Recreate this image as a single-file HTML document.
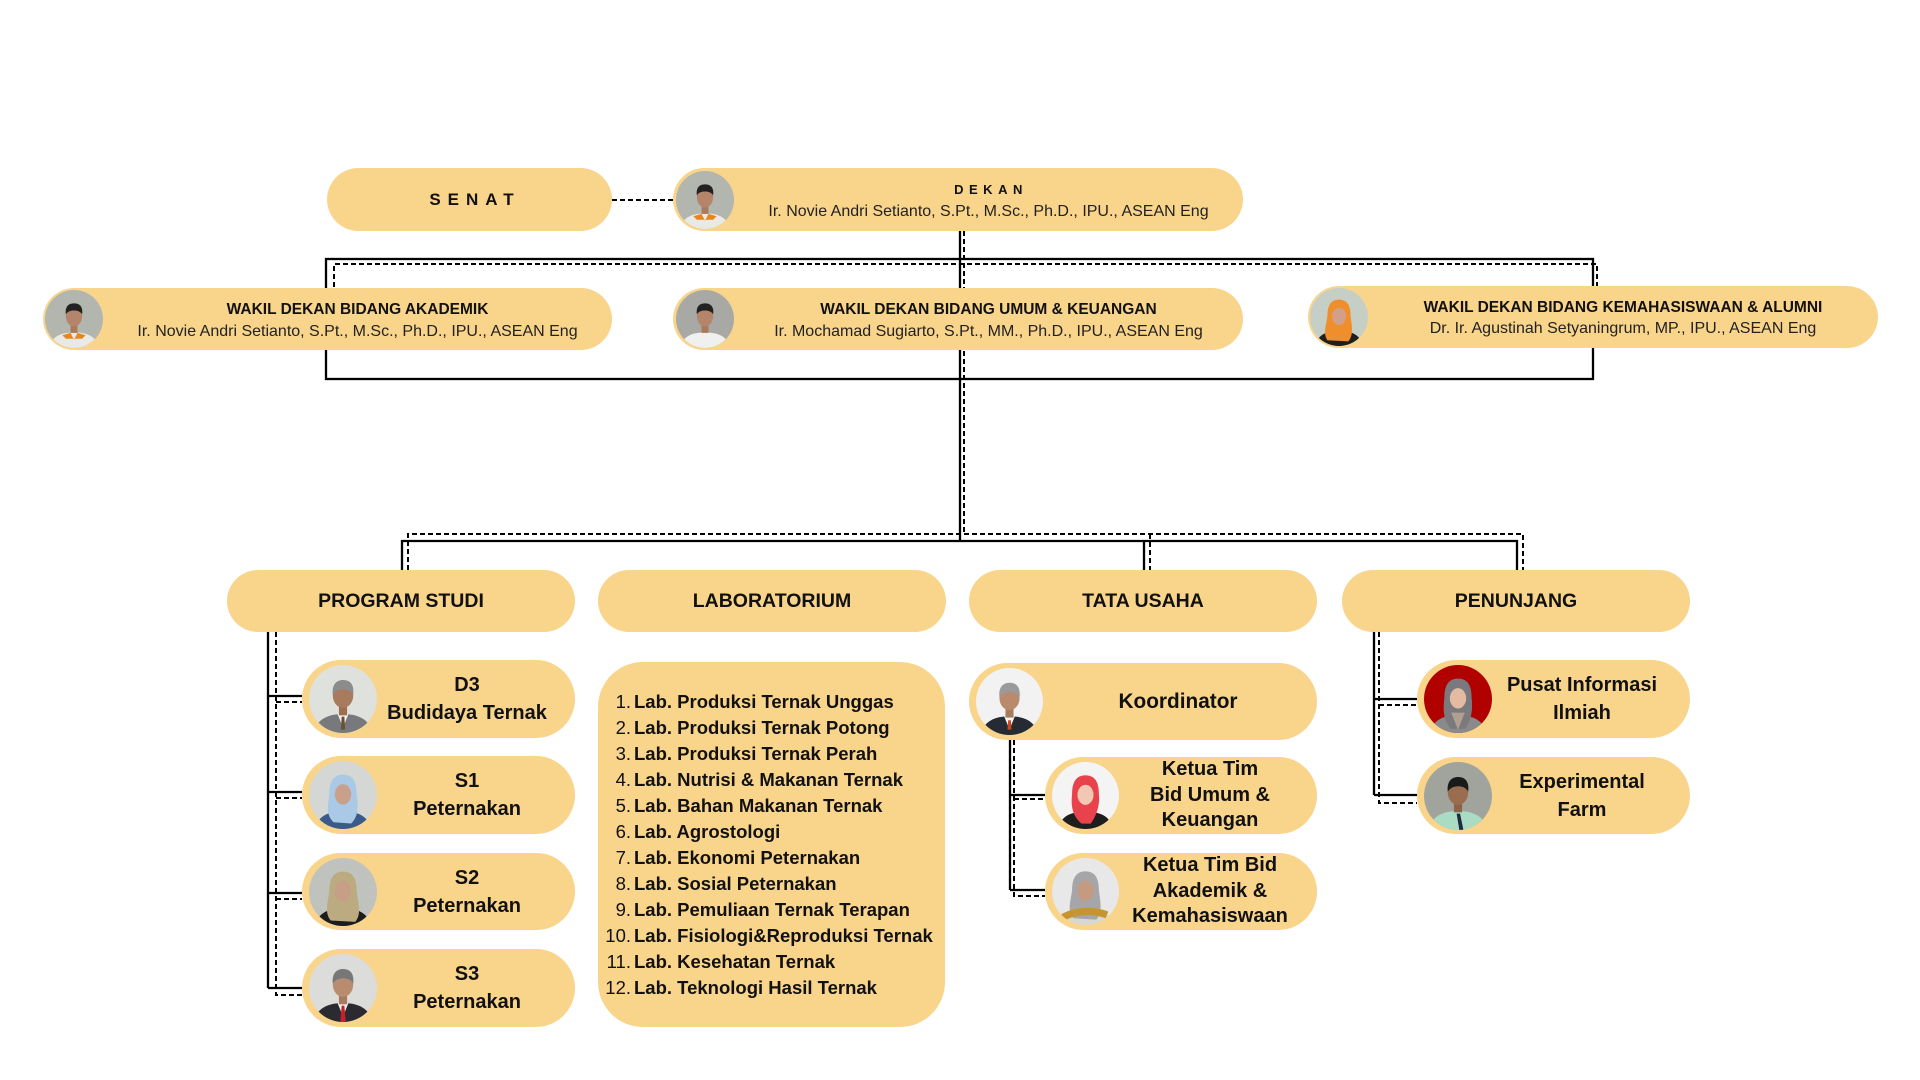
<!DOCTYPE html>
<html><head><meta charset="utf-8">
<style>
html,body{margin:0;padding:0}
body{width:1920px;height:1080px;position:relative;background:#fff;overflow:hidden;font-family:"Liberation Sans",sans-serif;color:#111}
svg.lines{position:absolute;left:0;top:0}
.b{position:absolute;background:#F9D48B}
.ph{position:absolute;border-radius:50%;overflow:hidden}
.ph svg{display:block;width:100%;height:100%}
.tt{position:absolute;text-align:center;font-weight:bold;font-size:15.5px;line-height:18px;white-space:nowrap}
.nm{position:absolute;text-align:center;font-size:16px;line-height:20px;color:#222;white-space:nowrap}
.hd{position:absolute;left:0;right:0;top:0;bottom:0;display:flex;align-items:center;justify-content:center;font-weight:bold;font-size:19.5px;white-space:nowrap}
.ct{position:absolute;top:0;bottom:0;display:flex;align-items:center;justify-content:center;text-align:center;font-weight:bold;font-size:20px;line-height:28px;white-space:nowrap}
.ct3{line-height:25.5px}
.row{position:absolute;left:600px;font-size:18.5px;line-height:26px;white-space:nowrap}
.row .n{display:inline-block;width:31px;text-align:right;font-weight:normal}
.row .t{font-weight:bold;margin-left:3px}
</style></head><body>

<svg class="lines" width="1920" height="1080" viewBox="0 0 1920 1080">
 <g fill="none" stroke="#000" stroke-width="2.3">
  <rect x="326" y="259" width="1267" height="120"/>
  <path d="M960,231 V541"/>
  <path d="M402,570 V541 H1517 V570 M1144,541 V570"/>
  <path d="M268,632 V988 M268,696 H302 M268,792 H302 M268,893 H302 M268,988 H302"/>
  <path d="M1010,740 V890 M1010,795 H1045 M1010,890 H1045"/>
  <path d="M1374,632 V795 M1374,699 H1417 M1374,795 H1417"/>
 </g>
 <g fill="none" stroke="#000" stroke-width="2" stroke-dasharray="5,3">
  <path d="M612,200 H676"/>
  <path d="M334,287 V264 H1597 V287"/>
  <path d="M964,231 V534"/>
  <path d="M408,570 V534 H1523 V570 M1150,534 V570"/>
  <path d="M276,632 V995 H302 M276,702 H302 M276,798 H302 M276,899 H302"/>
  <path d="M1014,740 V896 H1045 M1014,799 H1045"/>
  <path d="M1379,632 V803 H1417 M1379,705 H1417"/>
 </g>
</svg>

<!-- SENAT -->
<div class="b" style="left:327px;top:168px;width:285px;height:63px;border-radius:32px">
 <div class="hd" style="font-size:17px;letter-spacing:7px;padding-left:11px">SENAT</div>
</div>

<!-- DEKAN -->
<div class="b" style="left:673px;top:168px;width:570px;height:63px;border-radius:32px">
 <div class="ph" style="left:3px;top:2.5px;width:58px;height:58px"><svg viewBox="0 0 100 100"><rect width="100" height="100" fill="#b3b6ae"/><path d="M8,100 C10,80 28,73 50,73 C72,73 90,80 92,100Z" fill="#e9e9e6"/><path d="M30,78 L44,74 L50,86 L56,74 L70,78 L64,84 L36,84Z" fill="#e8861e"/><rect x="44" y="58" width="12" height="16" fill="#a97a5c"/><ellipse cx="50" cy="45" rx="14" ry="18" fill="#b4856a"/><path d="M36,42 C34,26 43,23 50,23 C60,23 66,29 64,42 C60,33 40,33 36,42Z" fill="#222"/></svg></div>
 <div class="tt" style="left:61px;right:0;top:13px;font-size:13px;letter-spacing:5.5px;padding-left:5px">DEKAN</div>
 <div class="nm" style="left:61px;right:0;top:34px">Ir. Novie Andri Setianto, S.Pt., M.Sc., Ph.D., IPU., ASEAN Eng</div>
</div>

<!-- WAKIL AKADEMIK -->
<div class="b" style="left:43px;top:288px;width:569px;height:62px;border-radius:31px">
 <div class="ph" style="left:2px;top:2px;width:58px;height:58px"><svg viewBox="0 0 100 100"><rect width="100" height="100" fill="#b3b6ae"/><path d="M8,100 C10,80 28,73 50,73 C72,73 90,80 92,100Z" fill="#e9e9e6"/><path d="M30,78 L44,74 L50,86 L56,74 L70,78 L64,84 L36,84Z" fill="#e8861e"/><rect x="44" y="58" width="12" height="16" fill="#a97a5c"/><ellipse cx="50" cy="45" rx="14" ry="18" fill="#b4856a"/><path d="M36,42 C34,26 43,23 50,23 C60,23 66,29 64,42 C60,33 40,33 36,42Z" fill="#222"/></svg></div>
 <div class="tt" style="left:60px;right:0;top:13px">WAKIL DEKAN BIDANG AKADEMIK</div>
 <div class="nm" style="left:60px;right:0;top:34px">Ir. Novie Andri Setianto, S.Pt., M.Sc., Ph.D., IPU., ASEAN Eng</div>
</div>

<!-- WAKIL UMUM -->
<div class="b" style="left:673px;top:288px;width:570px;height:62px;border-radius:31px">
 <div class="ph" style="left:3px;top:2px;width:58px;height:58px"><svg viewBox="0 0 100 100"><rect width="100" height="100" fill="#a8a9a4"/><path d="M8,100 C10,80 28,73 50,73 C72,73 90,80 92,100Z" fill="#f0f0ee"/><rect x="44" y="58" width="12" height="16" fill="#a97a5c"/><ellipse cx="50" cy="45" rx="14" ry="18" fill="#b4856a"/><path d="M36,42 C34,26 43,23 50,23 C60,23 66,29 64,42 C60,33 40,33 36,42Z" fill="#222"/></svg></div>
 <div class="tt" style="left:61px;right:0;top:13px">WAKIL DEKAN BIDANG UMUM &amp; KEUANGAN</div>
 <div class="nm" style="left:61px;right:0;top:34px">Ir. Mochamad Sugiarto, S.Pt., MM., Ph.D., IPU., ASEAN Eng</div>
</div>

<!-- WAKIL KEMAHASISWAAN -->
<div class="b" style="left:1308px;top:286px;width:570px;height:62px;border-radius:31px">
 <div class="ph" style="left:2px;top:2px;width:58px;height:58px"><svg viewBox="0 0 100 100"><rect width="100" height="100" fill="#c6cfc5"/><path d="M10,100 C12,80 30,74 50,74 C70,74 88,80 90,100Z" fill="#1f1f1f"/><path d="M30,48 C30,25 40,20 50,20 C62,20 70,27 70,48 C72,65 76,80 66,92 L30,90 C22,78 28,65 30,48Z" fill="#ef8f2c"/><ellipse cx="50" cy="49" rx="12" ry="15" fill="#d2a088"/></svg></div>
 <div class="tt" style="left:60px;right:0;top:13px">WAKIL DEKAN BIDANG KEMAHASISWAAN &amp; ALUMNI</div>
 <div class="nm" style="left:60px;right:0;top:33px">Dr. Ir. Agustinah Setyaningrum, MP., IPU., ASEAN Eng</div>
</div>

<!-- CATEGORY HEADERS -->
<div class="b" style="left:227px;top:570px;width:348px;height:62px;border-radius:31px"><div class="hd">PROGRAM STUDI</div></div>
<div class="b" style="left:598px;top:570px;width:348px;height:62px;border-radius:31px"><div class="hd">LABORATORIUM</div></div>
<div class="b" style="left:969px;top:570px;width:348px;height:62px;border-radius:31px"><div class="hd">TATA USAHA</div></div>
<div class="b" style="left:1342px;top:570px;width:348px;height:62px;border-radius:31px"><div class="hd">PENUNJANG</div></div>

<!-- PROGRAM STUDI CHILDREN -->
<div class="b" style="left:302px;top:660px;width:273px;height:78px;border-radius:39px">
 <div class="ph" style="left:7px;top:5px;width:68px;height:68px"><svg viewBox="0 0 100 100"><rect width="100" height="100" fill="#dfe1dc"/><path d="M8,100 C10,80 28,72 50,72 C72,72 90,80 92,100Z" fill="#77797d"/><path d="M42,72 L50,92 L58,72Z" fill="#f2f2f2"/><path d="M48,76 L52,76 L53,95 L47,95Z" fill="#6a5030"/><rect x="44" y="58" width="12" height="16" fill="#9c6e52"/><ellipse cx="50" cy="45" rx="15" ry="18" fill="#a87a5e"/><path d="M35,44 C33,26 43,22 50,22 C60,22 67,28 65,44 C61,33 40,33 35,44Z" fill="#8c8c8c"/></svg></div>
 <div class="ct" style="left:75px;right:18px">D3<br>Budidaya Ternak</div>
</div>
<div class="b" style="left:302px;top:756px;width:273px;height:78px;border-radius:39px">
 <div class="ph" style="left:7px;top:5px;width:68px;height:68px"><svg viewBox="0 0 100 100"><rect width="100" height="100" fill="#d4d7d3"/><path d="M10,100 C12,80 30,74 50,74 C70,74 88,80 90,100Z" fill="#3a5a8c"/><path d="M30,48 C30,25 40,20 50,20 C62,20 70,27 70,48 C72,65 74,80 62,92 L36,90 C24,78 28,65 30,48Z" fill="#a9c9e6"/><ellipse cx="50" cy="49" rx="12" ry="15" fill="#c9a08a"/></svg></div>
 <div class="ct" style="left:75px;right:18px">S1<br>Peternakan</div>
</div>
<div class="b" style="left:302px;top:853px;width:273px;height:77px;border-radius:39px">
 <div class="ph" style="left:7px;top:5px;width:68px;height:68px"><svg viewBox="0 0 100 100"><rect width="100" height="100" fill="#c0c3bd"/><path d="M10,100 C12,80 30,74 50,74 C70,74 88,80 90,100Z" fill="#1c1c1c"/><path d="M30,48 C30,25 40,20 50,20 C62,20 70,27 70,48 C72,65 78,82 68,94 L32,92 C22,80 28,65 30,48Z" fill="#bcab80"/><ellipse cx="50" cy="49" rx="12" ry="15" fill="#c79e86"/></svg></div>
 <div class="ct" style="left:75px;right:18px">S2<br>Peternakan</div>
</div>
<div class="b" style="left:302px;top:949px;width:273px;height:78px;border-radius:39px">
 <div class="ph" style="left:7px;top:5px;width:68px;height:68px"><svg viewBox="0 0 100 100"><rect width="100" height="100" fill="#dcdcdb"/><path d="M8,100 C10,80 28,72 50,72 C72,72 90,80 92,100Z" fill="#2a2a30"/><path d="M42,72 L50,92 L58,72Z" fill="#f2f2f2"/><path d="M48,76 L52,76 L54,100 L46,100Z" fill="#c8202a"/><rect x="44" y="58" width="12" height="16" fill="#a87a5e"/><ellipse cx="50" cy="45" rx="15" ry="18" fill="#b98c70"/><path d="M35,44 C33,26 43,22 50,22 C60,22 67,28 65,44 C61,33 40,33 35,44Z" fill="#777"/></svg></div>
 <div class="ct" style="left:75px;right:18px">S3<br>Peternakan</div>
</div>

<!-- LAB LIST -->
<div class="b" style="left:598px;top:662px;width:347px;height:365px;border-radius:45px"></div>
<div class="row" style="top:689px"><span class="n">1.</span><span class="t">Lab. Produksi Ternak Unggas</span></div>
<div class="row" style="top:715px"><span class="n">2.</span><span class="t">Lab. Produksi Ternak Potong</span></div>
<div class="row" style="top:741px"><span class="n">3.</span><span class="t">Lab. Produksi Ternak Perah</span></div>
<div class="row" style="top:767px"><span class="n">4.</span><span class="t">Lab. Nutrisi &amp; Makanan Ternak</span></div>
<div class="row" style="top:793px"><span class="n">5.</span><span class="t">Lab. Bahan Makanan Ternak</span></div>
<div class="row" style="top:819px"><span class="n">6.</span><span class="t">Lab. Agrostologi</span></div>
<div class="row" style="top:845px"><span class="n">7.</span><span class="t">Lab. Ekonomi Peternakan</span></div>
<div class="row" style="top:871px"><span class="n">8.</span><span class="t">Lab. Sosial Peternakan</span></div>
<div class="row" style="top:897px"><span class="n">9.</span><span class="t">Lab. Pemuliaan Ternak Terapan</span></div>
<div class="row" style="top:923px"><span class="n">10.</span><span class="t">Lab. Fisiologi&amp;Reproduksi Ternak</span></div>
<div class="row" style="top:949px"><span class="n">11.</span><span class="t">Lab. Kesehatan Ternak</span></div>
<div class="row" style="top:975px"><span class="n">12.</span><span class="t">Lab. Teknologi Hasil Ternak</span></div>

<!-- TATA USAHA -->
<div class="b" style="left:969px;top:663px;width:348px;height:77px;border-radius:39px">
 <div class="ph" style="left:7px;top:5px;width:67px;height:67px"><svg viewBox="0 0 100 100"><rect width="100" height="100" fill="#f2f2f2"/><path d="M8,100 C10,80 28,72 50,72 C72,72 90,80 92,100Z" fill="#262a33"/><path d="M42,72 L50,92 L58,72Z" fill="#f5f5f5"/><path d="M48,78 L52,78 L53,92 L47,92Z" fill="#c84a20"/><rect x="44" y="58" width="12" height="16" fill="#a87a5e"/><ellipse cx="50" cy="45" rx="15" ry="18" fill="#b98a6c"/><path d="M35,44 C33,26 43,22 50,22 C60,22 67,28 65,44 C61,33 40,33 35,44Z" fill="#9a9a9a"/></svg></div>
 <div class="ct" style="left:74px;right:4px;font-size:20.8px">Koordinator</div>
</div>
<div class="b" style="left:1045px;top:757px;width:272px;height:77px;border-radius:39px">
 <div class="ph" style="left:7px;top:5px;width:67px;height:67px"><svg viewBox="0 0 100 100"><rect width="100" height="100" fill="#f4f4f4"/><path d="M10,100 C12,80 30,74 50,74 C70,74 88,80 90,100Z" fill="#1e1e1e"/><path d="M42,74 L50,90 L58,74Z" fill="#f5f5f5"/><path d="M30,48 C30,25 40,20 50,20 C62,20 70,27 70,48 C72,65 66,80 58,92 L44,92 C30,80 28,65 30,48Z" fill="#e8424c"/><ellipse cx="50" cy="49" rx="12" ry="15" fill="#f0c8b4"/></svg></div>
 <div class="ct ct3" style="left:74px;right:16px">Ketua Tim<br>Bid Umum &amp;<br>Keuangan</div>
</div>
<div class="b" style="left:1045px;top:853px;width:272px;height:77px;border-radius:39px">
 <div class="ph" style="left:7px;top:5px;width:67px;height:67px"><svg viewBox="0 0 100 100"><rect width="100" height="100" fill="#e8e8e8"/><path d="M10,100 C12,80 30,74 50,74 C70,74 88,80 90,100Z" fill="#d8d8d0"/><path d="M30,48 C30,25 40,20 50,20 C62,20 70,27 70,48 C72,65 76,80 66,92 L32,90 C22,78 28,65 30,48Z" fill="#a6a6a8"/><path d="M14,84 C30,74 60,70 84,80 L80,90 C60,82 34,84 18,94Z" fill="#c7952f"/><ellipse cx="50" cy="49" rx="12" ry="15" fill="#c49a80"/></svg></div>
 <div class="ct ct3" style="left:74px;right:16px">Ketua Tim Bid<br>Akademik &amp;<br>Kemahasiswaan</div>
</div>

<!-- PENUNJANG -->
<div class="b" style="left:1417px;top:660px;width:273px;height:78px;border-radius:39px">
 <div class="ph" style="left:7px;top:5px;width:68px;height:68px"><svg viewBox="0 0 100 100"><rect width="100" height="100" fill="#b00000"/><path d="M10,100 C12,80 30,74 50,74 C70,74 88,80 90,100Z" fill="#8a8a8c"/><path d="M30,48 C30,25 40,20 50,20 C62,20 70,27 70,48 C72,65 70,82 60,94 L40,94 C28,82 28,65 30,48Z" fill="#7a7a7e"/><path d="M40,70 L50,95 L60,70Z" fill="#b0a090"/><ellipse cx="50" cy="49" rx="12" ry="15" fill="#e2bba2"/></svg></div>
 <div class="ct" style="left:75px;right:18px">Pusat Informasi<br>Ilmiah</div>
</div>
<div class="b" style="left:1417px;top:757px;width:273px;height:77px;border-radius:39px">
 <div class="ph" style="left:7px;top:5px;width:68px;height:68px"><svg viewBox="0 0 100 100"><rect width="100" height="100" fill="#a0a49d"/><path d="M8,100 C10,80 28,72 50,72 C72,72 90,80 92,100Z" fill="#a9dcc2"/><path d="M48,76 L53,76 L58,100 L52,100Z" fill="#1e2a44"/><rect x="44" y="58" width="12" height="16" fill="#8e6248"/><ellipse cx="50" cy="45" rx="15" ry="18" fill="#9a6d50"/><path d="M35,44 C33,26 43,22 50,22 C60,22 67,28 65,44 C61,33 40,33 35,44Z" fill="#1a1a1a"/></svg></div>
 <div class="ct" style="left:75px;right:18px">Experimental<br>Farm</div>
</div>

</body></html>
